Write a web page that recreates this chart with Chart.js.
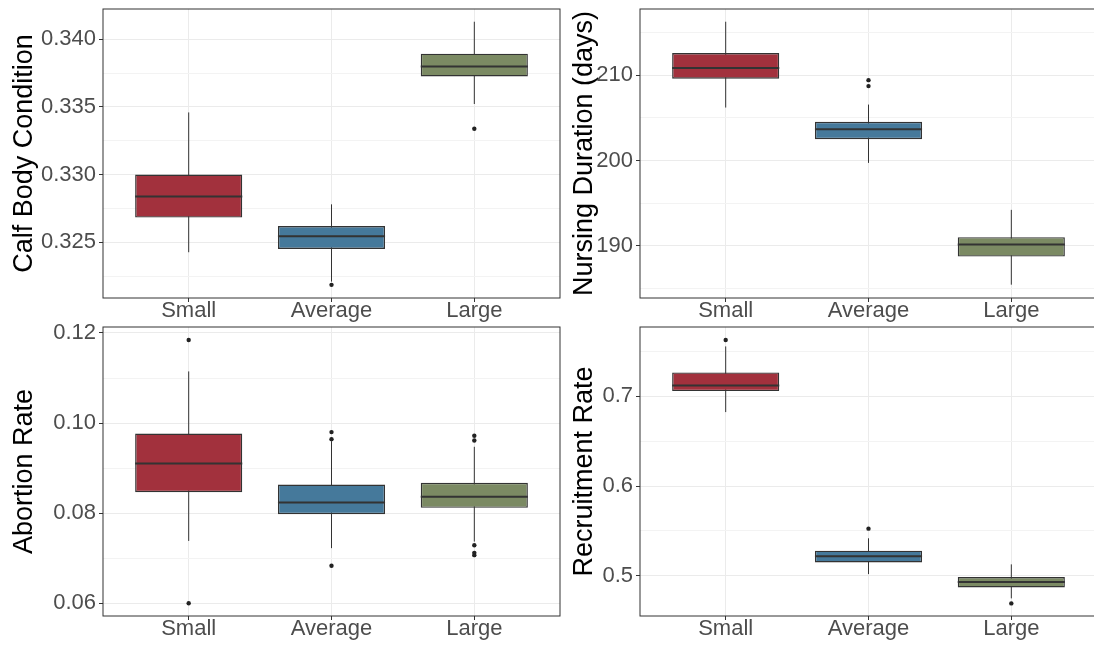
<!DOCTYPE html>
<html>
<head>
<meta charset="utf-8">
<script src="https://cdn.jsdelivr.net/npm/chart.js@4.4.0/dist/chart.umd.min.js"></script>
<style>
  html, body { margin: 0; padding: 0; background: #fff; overflow: hidden; width: 1094px; height: 646px; }
  canvas { position: absolute; }
</style>
</head>
<body>
<canvas id="calfChart" width="564" height="326" style="left:0;top:0"></canvas>
<canvas id="nursingChart" width="544" height="326" style="left:560px;top:0"></canvas>
<canvas id="abortionChart" width="564" height="326" style="left:0;top:318px"></canvas>
<canvas id="recruitChart" width="544" height="326" style="left:560px;top:318px"></canvas>
<script>
"use strict";

// 类别
const categories = ["Small", "Average", "Large"];

// Calf Body Condition
const calfLow = [0.32426, 0.32209, 0.33521];
const calfQ1 = [0.32682, 0.32450, 0.33725];
const calfMedian = [0.32837, 0.32544, 0.33799];
const calfQ3 = [0.33000, 0.32620, 0.33893];
const calfHigh = [0.33459, 0.32780, 0.34129];
const calfOutliers = [[], [0.32185], [0.33338]];
const calfTicks = [0.325, 0.330, 0.335, 0.340];
const calfTickLabels = ["0.325", "0.330", "0.335", "0.340"];
const calfMinorTicks = [0.3225, 0.3275, 0.3325, 0.3375];

// Nursing Duration (days)
const nursingLow = [206.2, 199.72, 185.46];
const nursingQ1 = [209.57, 202.5, 188.75];
const nursingMedian = [210.82, 203.67, 190.15];
const nursingQ3 = [212.58, 204.53, 191.02];
const nursingHigh = [216.25, 206.55, 194.22];
const nursingOutliers = [[], [209.41, 208.71], []];
const nursingTicks = [190, 200, 210];
const nursingTickLabels = ["190", "200", "210"];
const nursingMinorTicks = [185, 195, 205, 215];

// Abortion Rate
const abortionLow = [0.07384, 0.07224, 0.0737];
const abortionQ1 = [0.08467, 0.07978, 0.08119];
const abortionMedian = [0.09102, 0.08236, 0.08363];
const abortionQ3 = [0.09769, 0.08636, 0.08674];
const abortionHigh = [0.11147, 0.0960, 0.09474];
const abortionOutliers = [[0.11844, 0.0600], [0.0980, 0.09644, 0.06832], [0.09718, 0.09614, 0.07289, 0.0712, 0.07069]];
const abortionTicks = [0.06, 0.08, 0.10, 0.12];
const abortionTickLabels = ["0.06", "0.08", "0.10", "0.12"];
const abortionMinorTicks = [0.07, 0.09, 0.11];

// Recruitment Rate
const recruitLow = [0.6822, 0.5021, 0.4751];
const recruitQ1 = [0.7056, 0.5151, 0.4873];
const recruitMedian = [0.7118, 0.5218, 0.4932];
const recruitQ3 = [0.7263, 0.5281, 0.4988];
const recruitHigh = [0.7552, 0.5419, 0.5129];
const recruitOutliers = [[0.7624], [0.5526], [0.4695]];
const recruitTicks = [0.5, 0.6, 0.7];
const recruitTickLabels = ["0.5", "0.6", "0.7"];
const recruitMinorTicks = [0.55, 0.65, 0.75];

const boxColors = ["#A2313D", "#45799B", "#7B8A63"];
const BOX_WIDTH = 0.75;

Chart.defaults.font.family = '"Liberation Sans", Arial, Helvetica, sans-serif';
Chart.defaults.color = "#4D4D4D";

// 面板外框
const panelBorder = {
  id: "panelBorder",
  afterDraw(chart) {
    const { ctx, chartArea: a } = chart;
    ctx.save();
    ctx.strokeStyle = "#333333";
    ctx.lineWidth = 1;
    ctx.strokeRect(a.left, a.top, a.right - a.left, a.bottom - a.top);
    ctx.restore();
  },
};

function segments(lo, hi) {
  // 每个类别一条竖线，中间用 null 断开
  const pts = [];
  categories.forEach((c, i) => {
    pts.push({ x: i, y: lo[i] }, { x: i, y: hi[i] }, { x: i + 0.5, y: null });
  });
  return pts;
}

function medians(med) {
  const pts = [];
  categories.forEach((c, i) => {
    pts.push({ x: i - BOX_WIDTH / 2, y: med[i] }, { x: i + BOX_WIDTH / 2, y: med[i] }, { x: i + 0.5, y: null });
  });
  return pts;
}

function makePanel(id, p) {
  const ctx = document.getElementById(id);
  const majorSet = new Set(p.ticks);
  const allTicks = [...p.ticks, ...p.minor].sort((a, b) => a - b);
  const isMajor = (v) => majorSet.has(v);

  return new Chart(ctx, {
    type: "bar",
    data: {
      datasets: [
        {
          type: "line",
          data: medians(p.median),
          borderColor: "#333333",
          borderWidth: 2,
          pointRadius: 0,
          spanGaps: false,
          order: 0,
        },
        {
          type: "bar",
          data: categories.map((c, i) => ({ x: i, y: [p.q1[i], p.q3[i]] })),
          backgroundColor: boxColors,
          borderColor: "#333333",
          borderWidth: 1.4,
          borderSkipped: false,
          grouped: false,
          barPercentage: BOX_WIDTH,
          categoryPercentage: 1,
          order: 1,
        },
        {
          type: "line",
          data: segments(p.low, p.high),
          borderColor: "#333333",
          borderWidth: 1,
          pointRadius: 0,
          spanGaps: false,
          order: 2,
        },
        {
          type: "line",
          data: p.outliers.flatMap((arr, i) => arr.map((v) => ({ x: i, y: v }))),
          showLine: false,
          pointRadius: 2.2,
          pointBackgroundColor: "#222222",
          pointBorderWidth: 0,
          order: 3,
        },
      ],
    },
    options: {
      responsive: false,
      animation: false,
      events: [],
      layout: { padding: { top: 9, right: p.padRight, left: 0, bottom: 0 } },
      plugins: { legend: { display: false }, tooltip: { enabled: false } },
      scales: {
        x: {
          type: "linear",
          min: -0.6,
          max: 2.6,
          offset: false,
          afterBuildTicks: (s) => { s.ticks = categories.map((c, i) => ({ value: i })); },
          afterFit: (s) => { s.height = 28; s.paddingLeft = 0; s.paddingRight = 0; },
          ticks: {
            callback: (v) => categories[v],
            font: { size: 22 },
            color: "#4D4D4D",
            padding: -4,
            maxRotation: 0,
            autoSkip: false,
          },
          grid: { offset: false, color: "#EBEBEB", lineWidth: 1, tickLength: 4, tickColor: "#333333" },
          border: { display: false },
        },
        y: {
          type: "linear",
          min: p.min,
          max: p.max,
          afterBuildTicks: (s) => { s.ticks = allTicks.map((v) => ({ value: v })); },
          afterFit: (s) => { s.width = p.yWidth; s.paddingTop = 0; s.paddingBottom = 0; },
          ticks: {
            callback: (v) => (isMajor(v) ? p.tickLabels[p.ticks.indexOf(v)] : ""),
            font: { size: 22 },
            color: "#4D4D4D",
            padding: 3,
            autoSkip: false,
          },
          grid: {
            color: (c) => (isMajor(c.tick.value) ? "#EBEBEB" : "#F3F3F3"),
            lineWidth: 1,
            tickLength: 4,
            tickColor: (c) => (isMajor(c.tick.value) ? "#333333" : "rgba(0,0,0,0)"),
          },
          border: { display: false },
          title: {
            display: true,
            text: p.title,
            color: "#000000",
            font: { size: 27 },
            padding: { top: 8, bottom: 0 },
          },
        },
      },
    },
    plugins: [panelBorder],
  });
}

makePanel("calfChart", {
  title: "Calf Body Condition",
  low: calfLow, q1: calfQ1, median: calfMedian, q3: calfQ3, high: calfHigh,
  outliers: calfOutliers, ticks: calfTicks, tickLabels: calfTickLabels, minor: calfMinorTicks,
  min: 0.32088, max: 0.34223, yWidth: 103, padRight: 4,
});

makePanel("nursingChart", {
  title: "Nursing Duration (days)",
  low: nursingLow, q1: nursingQ1, median: nursingMedian, q3: nursingQ3, high: nursingHigh,
  outliers: nursingOutliers, ticks: nursingTicks, tickLabels: nursingTickLabels, minor: nursingMinorTicks,
  min: 183.9, max: 217.74, yWidth: 80, padRight: 7,
});

makePanel("abortionChart", {
  title: "Abortion Rate",
  low: abortionLow, q1: abortionQ1, median: abortionMedian, q3: abortionQ3, high: abortionHigh,
  outliers: abortionOutliers, ticks: abortionTicks, tickLabels: abortionTickLabels, minor: abortionMinorTicks,
  min: 0.05718, max: 0.12133, yWidth: 103, padRight: 4,
});

makePanel("recruitChart", {
  title: "Recruitment Rate",
  low: recruitLow, q1: recruitQ1, median: recruitMedian, q3: recruitQ3, high: recruitHigh,
  outliers: recruitOutliers, ticks: recruitTicks, tickLabels: recruitTickLabels, minor: recruitMinorTicks,
  min: 0.4555, max: 0.7768, yWidth: 80, padRight: 7,
});
</script>
</body>
</html>
